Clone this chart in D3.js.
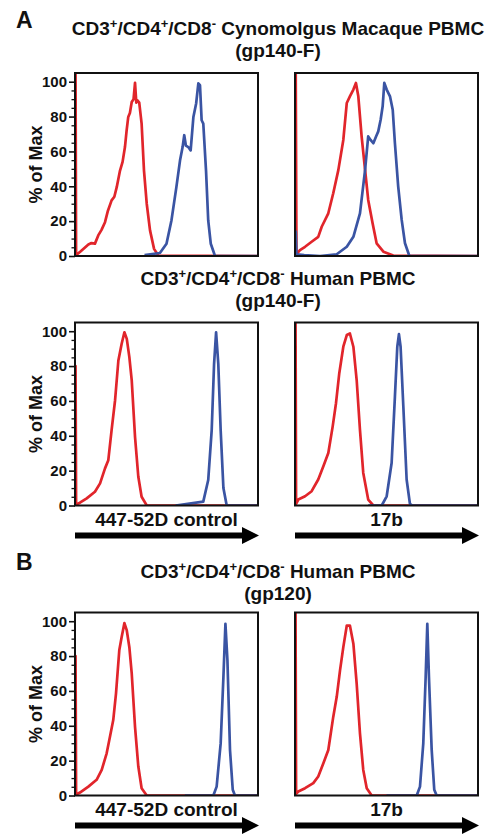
<!DOCTYPE html>
<html><head><meta charset="utf-8">
<script src="https://cdn.jsdelivr.net/npm/d3@7"></script>
<style>
html,body{margin:0;padding:0;background:#fff;}
svg{display:block;font-family:"Liberation Sans",Arial,sans-serif;}
</style></head>
<body>
<svg id="chart" width="498" height="840"></svg>
<script>
// ---- data (x: fluorescence position 0-100 across the panel, y: % of Max) ----
const yTicks = [0, 20, 40, 60, 80, 100];
const xLabels = ["447-52D control", "17b"];

const redA1 = [[0.2,0],[0.3,106],[0.6,0.5],[3,2.6],[5,4.5],[7.3,6.6],[9,7.4],[10.9,7.1],[12.7,11.8],[14.5,15],[16.4,19.4],[18,26],[20,31.9],[21.5,34],[22.8,39.5],[24.6,49],[26,54],[27.3,62.5],[28.2,72],[29.1,79.8],[30,82],[31,88.4],[32,90],[32.8,99.3],[33.5,88],[34,89.4],[35.1,88],[36.4,76],[37.7,49],[39.2,30],[41,14.7],[43.2,4.1],[45.5,0.3],[100,0]];
const blueA1 = [[38,0.5],[46.4,1.7],[50,7],[52.7,20.4],[55.4,39.5],[57.4,54.9],[58.8,62.5],[59.7,69.3],[60.6,63.3],[61.9,62.5],[63.2,60.6],[64.7,79.8],[66.2,87.5],[67.4,99],[68.3,98],[69.2,77.9],[70.1,76],[71.6,49],[72.8,20.4],[74.2,7],[76.5,0],[100,0]];

const redA2 = [[0.3,0],[0.4,106],[0.8,1],[2.7,3.4],[5.5,5.3],[9.1,8.2],[12.7,11],[14.6,16.8],[18.2,24.5],[20.9,36],[23.7,49.4],[26.4,66.6],[28.3,87.8],[30,91.6],[31.9,95.5],[33.3,99.3],[34.6,91.6],[36.4,68.6],[38.3,49.4],[40,32.2],[42.4,18.8],[44.6,7.3],[48.3,2.5],[53.7,0.3],[100,0]];
const blueA2 = [[0.3,0],[0.4,14],[0.8,1],[5,0.5],[13.7,0],[22.8,1],[28.3,5.3],[31.9,11],[35.5,24.5],[38.3,49.4],[40,68.6],[41.3,66.6],[42.8,64.7],[44.3,68.6],[45.5,71.5],[46.8,78.2],[47.9,85.9],[48.8,99.3],[50.1,95.5],[51.9,91.6],[53.4,83.9],[54.6,64.7],[56.4,39.8],[58.3,20.7],[60.1,7.3],[62.5,0],[100,0]];

const redB1 = [[0.2,0],[0.3,80],[0.6,0.5],[2.7,1.6],[6.4,4.1],[10.9,7.9],[13.7,12.7],[16.4,21.3],[18.2,26],[20,43.2],[21.9,60.4],[23.7,83.2],[25.5,92.8],[27,99.4],[28.3,95.6],[29.7,85.1],[31,71.8],[32.8,39.4],[34.6,16.5],[36.4,5],[39.2,0],[100,0]];
const blueB1 = [[55,0],[70.1,2.2],[72.8,14.6],[74.7,43.2],[76,81.3],[77.1,99.4],[78.3,81.3],[79.6,43.2],[81.1,10],[82.9,0],[100,0]];

const redB2 = [[0.2,0],[0.3,106],[0.6,1],[1.8,3.4],[5.5,5.3],[9.1,8.2],[12.7,14.9],[15.5,22.5],[18.2,30.1],[20.6,45.4],[22.4,58.7],[24.2,75.9],[26.4,91.1],[28.3,97.8],[30,98.7],[31.9,91.1],[33.7,72],[35.5,43.4],[37.3,18.7],[40,3.4],[42.8,0],[100,0]];
const blueB2 = [[40,0],[47.4,0],[50.1,5.3],[52.8,24.4],[54.6,62.5],[55.9,91.1],[56.8,98.3],[57.7,91.1],[59.2,56.8],[61,14.9],[62.8,1],[64,0],[100,0]];

const redC1 = [[0.2,0],[0.3,80],[0.6,0.5],[2.7,1.7],[7.3,5.1],[11.8,9],[14.6,14.7],[17.3,24.2],[19.1,33.7],[20.9,43.3],[22.4,58.5],[24.2,83.3],[25.5,90.9],[27,98.9],[28.3,94.7],[29.7,85.1],[31,70],[32.8,39.4],[34.6,16.6],[36.4,4.2],[39.2,0],[100,0]];
const blueC1 = [[60,0],[75.6,0],[77.4,5.1],[79.6,29.9],[81.1,68],[82.2,98.5],[83.3,77.5],[84.7,26.1],[86.2,3.3],[87.4,0],[100,0]];

const redC2 = [[0.2,0],[0.3,106],[0.6,1],[1.8,2.3],[5.5,4.2],[10,7.1],[12.7,10.9],[15.5,18.5],[18.2,26.1],[20.9,45.1],[22.8,56.6],[24.6,71.8],[26.4,85.1],[28.3,97.5],[30,97.5],[31.9,87.1],[33.7,64.2],[35.5,35.7],[37.3,14.7],[39.2,4.2],[41.9,0],[100,0]];
const blueC2 = [[50,0],[66.5,0],[68.3,5.1],[70.1,29.9],[71.4,68],[72.3,98.5],[73.2,68],[74.7,26],[76.1,3.3],[77.4,0],[100,0]];

// ---- layout ----
const PW = 183, PH = 183;
const colX = [75, 295];
const rowY = [73, 322.5, 612.5];
const RED = "#e1252b", BLUE = "#3a54a3";

const panels = [
  {r:0,c:0,red:redA1,blue:blueA1,xl:null},
  {r:0,c:1,red:redA2,blue:blueA2,xl:null},
  {r:1,c:0,red:redB1,blue:blueB1,xl:xLabels[0]},
  {r:1,c:1,red:redB2,blue:blueB2,xl:xLabels[1]},
  {r:2,c:0,red:redC1,blue:blueC1,xl:xLabels[0]},
  {r:2,c:1,red:redC2,blue:blueC2,xl:xLabels[1]},
];

const svg = d3.select("#chart");
const x = d3.scaleLinear().domain([0,100]).range([0,PW]);
const y = d3.scaleLinear().domain([0,105]).range([PH,0]);
const line = d3.line().x(d=>x(d[0])).y(d=>y(d[1]));

const defs = svg.append("defs");
defs.append("clipPath").attr("id","clip").append("rect")
  .attr("x",0).attr("y",0).attr("width",PW).attr("height",PH);
defs.append("marker").attr("id","arrow").attr("viewBox","0 0 10 10")
  .attr("refX",0).attr("refY",5).attr("markerUnits","userSpaceOnUse")
  .attr("markerWidth",17).attr("markerHeight",18).attr("orient","auto")
  .append("path").attr("d","M0,0L10,5L0,10Z").attr("fill","#000");

panels.forEach(p => {
  const g = svg.append("g").attr("transform",`translate(${colX[p.c]},${rowY[p.r]})`);
  const inner = g.append("g").attr("clip-path","url(#clip)");
  inner.append("path").datum(p.red).attr("d",line)
    .attr("fill","none").attr("stroke",RED).attr("stroke-width",2.7).attr("stroke-linejoin","round");
  inner.append("path").datum(p.blue).attr("d",line)
    .attr("fill","none").attr("stroke",BLUE).attr("stroke-width",2.7).attr("stroke-linejoin","round");
  g.append("rect").attr("x",0).attr("y",0).attr("width",PW).attr("height",PH)
    .attr("fill","none").attr("stroke","#111").attr("stroke-width",2);

  if (p.c === 0) {
    const minor = d3.range(0,101,5).filter(v => v % 20 !== 0);
    g.append("g").call(d3.axisLeft(y).tickValues(minor).tickSize(3.5).tickFormat(""))
      .call(a=>a.select(".domain").remove())
      .selectAll("line").attr("stroke","#111").attr("stroke-width",1.3);
    const ax = g.append("g").call(d3.axisLeft(y).tickValues(yTicks).tickSize(6).tickPadding(2))
      .call(a=>a.select(".domain").remove());
    ax.selectAll("line").attr("stroke","#111").attr("stroke-width",1.6);
    ax.selectAll("text").attr("font-size",15).attr("font-weight","bold").attr("fill","#111")
      .attr("font-family","'Liberation Sans',Arial,sans-serif");
    svg.append("text")
      .attr("transform",`translate(42,${rowY[p.r]+PH/2}) rotate(-90)`)
      .attr("text-anchor","middle").attr("font-size",18).attr("font-weight","bold").attr("fill","#111")
      .text("% of Max");
  }
  if (p.xl) {
    g.append("text").attr("x",PW/2).attr("y",PH+20).attr("text-anchor","middle")
      .attr("font-size",19).attr("font-weight","bold").attr("fill","#111").text(p.xl);
    g.append("line").attr("x1",0).attr("x2",PW-16).attr("y1",PH+30).attr("y2",PH+30)
      .attr("stroke","#000").attr("stroke-width",6).attr("marker-end","url(#arrow)");
  }
});

// ---- titles (superscripts as raised tspans) ----
function drawTitle(yy, parts) {
  const t = svg.append("text").attr("x",278).attr("y",yy).attr("text-anchor","middle")
    .attr("font-size",19).attr("font-weight","bold").attr("fill","#111");
  let raised = false;
  parts.forEach(pt => {
    if (typeof pt === "object") {
      t.append("tspan").attr("font-size",13).attr("dy",raised ? 0 : -7).text(pt.s);
      raised = true;
    } else {
      const ts = t.append("tspan").text(pt);
      if (raised) { ts.attr("dy",7); raised = false; }
    }
  });
}
const supParts = (rest) => ["CD3",{s:"+"},"/CD4",{s:"+"},"/CD8",{s:"-"},rest];
drawTitle(35, supParts(" Cynomolgus Macaque PBMC"));
drawTitle(57, ["(gp140-F)"]);
drawTitle(285, supParts(" Human PBMC"));
drawTitle(307, ["(gp140-F)"]);
drawTitle(578, supParts(" Human PBMC"));
drawTitle(600, ["(gp120)"]);

svg.append("text").attr("x",16).attr("y",28).attr("font-size",23).attr("font-weight","bold").attr("fill","#111").text("A");
svg.append("text").attr("x",16).attr("y",570).attr("font-size",23).attr("font-weight","bold").attr("fill","#111").text("B");
</script>
</body></html>
